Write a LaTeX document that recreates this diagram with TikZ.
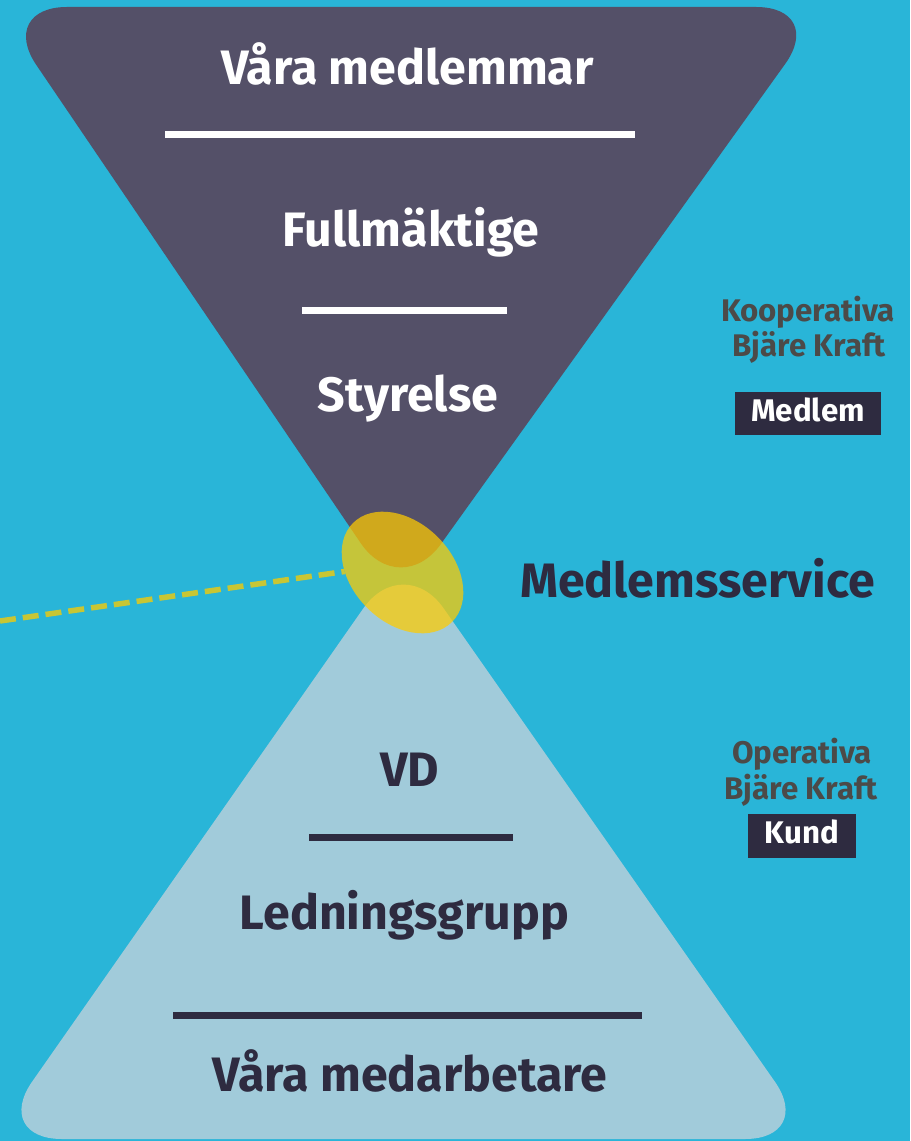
\documentclass[tikz,border=0pt]{standalone}
\usepackage{fontspec}
\setmainfont{Fira Sans}
\usepackage{xcolor}
\usepackage{tikz}
\usetikzlibrary{shapes.geometric}
\definecolor{bgblue}{RGB}{41, 181, 216}
\definecolor{boardpurple}{RGB}{84, 80, 104}
\definecolor{staffblue}{RGB}{161, 203, 218}
\definecolor{inkdark}{RGB}{46, 43, 64}
\definecolor{labelgray}{RGB}{76, 74, 72}
\definecolor{serviceyellow}{RGB}{255, 203, 0}
\definecolor{dashyellow}{RGB}{200, 198, 52}

\begin{document}
\begin{tikzpicture}[x=0.02cm, y=0.02cm,
    level/.style={font=\fontsize{27.5}{33}\selectfont\bfseries, anchor=base, inner sep=0pt},
    sidelabel/.style={font=\fontsize{17.8}{21}\selectfont\bfseries, text=labelgray, anchor=base, inner sep=0pt},
    tagbox/.style={font=\fontsize{17.8}{21}\selectfont\bfseries, text=white, fill=inkdark,
        inner xsep=0.33cm, inner ysep=0pt, text height=0.88em, text depth=0pt, minimum height=0.88cm},
    rule/.style={line width=0.14cm},
    ]
    \useasboundingbox (0,0) rectangle (910,-1141);
    \clip (0,0) rectangle (910,-1141);

    % Background
    \fill[bgblue] (0,0) rectangle (910,-1141);

    % Lower (light) triangle
    \fill[staffblue, rounded corners=1.4cm] (-8,-1139) -- (815,-1139) -- (403.5,-551) -- cycle;
    % Upper (dark) triangle
    \fill[boardpurple, rounded corners=1.4cm] (-3,-7) -- (826,-7) -- (400,-601) -- cycle;

    % Upper levels
    \node[level, text=white] (members) at (407.5,-85) {Våra medlemmar};
    \draw[rule, white] (165,-135) -- (635,-135);
    \node[level, text=white] (council) at (411,-247) {Fullmäktige};
    \draw[rule, white] (302,-311) -- (507,-311);
    \node[level, text=white] (board) at (408,-412) {Styrelse};

    % Lower levels
    \node[level, text=inkdark] (ceo) at (409.5,-786) {VD};
    \draw[rule, inkdark] (309,-837) -- (513,-837);
    \node[level, text=inkdark] (mgmt) at (404.5,-929) {Ledningsgrupp};
    \draw[rule, inkdark] (173,-1015) -- (642,-1015);
    \node[level, text=inkdark] (staff) at (410,-1091) {Våra medarbetare};

    % Member service in the waist
    \node[ellipse, fill=serviceyellow, fill opacity=0.73, minimum width=2.8cm, minimum height=2cm,
        inner sep=0pt, outer sep=0pt, rotate=-45] (service) at (402.5,-572.5) {};
    \coordinate (dashstart) at (0,-621);
    \draw[dashyellow, line width=0.11cm, dash pattern=on 0.32cm off 0.14cm] (dashstart) -- (service.224);
    \node[level, text=inkdark] (servicelabel) at (697.5,-597) {Medlemsservice};

    % Side labels
    \node[sidelabel] (coop1) at (808,-322) {Kooperativa};
    \node[sidelabel] (coop2) at (809,-357) {Bjäre Kraft};
    \node[tagbox] (member) at (808,-413.5) {Medlem};
    \node[sidelabel] (oper1) at (802,-763) {Operativa};
    \node[sidelabel] (oper2) at (801,-799) {Bjäre Kraft};
    \node[tagbox] (customer) at (802,-836) {Kund};
\end{tikzpicture}
\end{document}
